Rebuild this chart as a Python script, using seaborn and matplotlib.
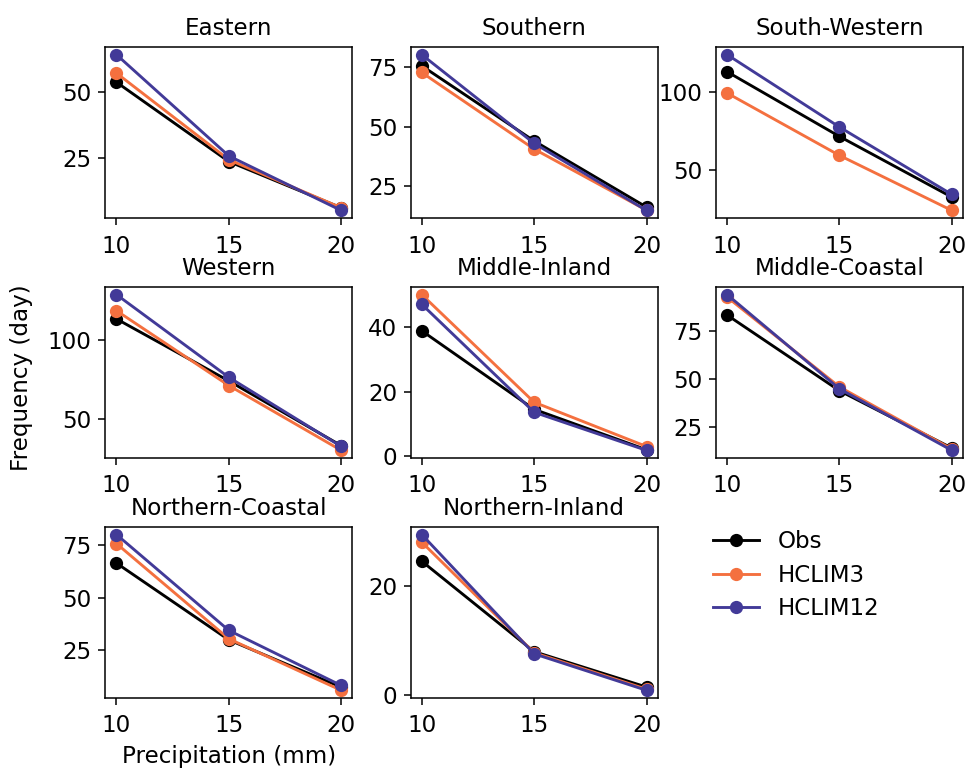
import numpy as np
import pandas as pd
import matplotlib
matplotlib.use("Agg")
import matplotlib.pyplot as plt
import seaborn as sns
from matplotlib.lines import Line2D

regions = ["Eastern", "Southern", "South-Western", "Western",
           "Middle-Inland", "Middle-Coastal", "Northern-Coastal", "Northern-Inland"]
precip = [10, 15, 20]
sources = ["Obs", "HCLIM3", "HCLIM12"]

obs = [
    [53.5, 23.8, 6.5],
    [75.7, 44.1, 16.3],
    [113.0, 71.7, 33.0],
    [113.3, 74.0, 33.0],
    [38.8, 14.5, 2.0],
    [83.6, 44.0, 14.0],
    [66.5, 30.0, 7.5],
    [24.6, 8.0, 1.5],
]
hclim3 = [
    [56.9, 24.5, 6.5],
    [72.9, 40.7, 15.0],
    [99.4, 59.6, 24.5],
    [118.5, 71.1, 30.0],
    [50.0, 16.7, 3.0],
    [93.0, 46.0, 13.5],
    [75.8, 30.5, 6.0],
    [28.1, 7.8, 1.1],
]
hclim12 = [
    [63.8, 25.9, 5.5],
    [80.4, 43.1, 14.9],
    [123.9, 77.7, 34.7],
    [128.7, 76.3, 32.5],
    [47.0, 13.6, 1.8],
    [94.3, 45.0, 12.8],
    [80.1, 34.5, 8.3],
    [29.5, 7.6, 0.9],
]
yticks = [
    [25, 50],
    [25, 50, 75],
    [50, 100],
    [50, 100],
    [0, 20, 40],
    [25, 50, 75],
    [25, 50, 75],
    [0, 20],
]
xticks = [10, 15, 20]

colors = {"Obs": "#000000", "HCLIM3": "#f4703f", "HCLIM12": "#423a98"}

rows = []
for i, reg in enumerate(regions):
    for src, arr in zip(sources, [obs, hclim3, hclim12]):
        for p, v in zip(precip, arr[i]):
            rows.append({"region": reg, "source": src, "precip": p, "freq": v})
df = pd.DataFrame(rows)

plt.rcParams["font.family"] = ["DejaVu Sans"]
plt.rcParams["font.size"] = 12

LABEL_FS = 12
TICK_FS = 12
DPI = 138

fig, axes = plt.subplots(3, 3, figsize=(965 / DPI, 768 / DPI), dpi=DPI)
fig.subplots_adjust(left=0.109, right=0.998, top=0.939, bottom=0.091,
                    wspace=0.235, hspace=0.40)

for i, reg in enumerate(regions):
    ax = axes.flat[i]
    sub = df[df["region"] == reg]
    sns.lineplot(data=sub, x="precip", y="freq", hue="source", hue_order=sources,
                 palette=colors, marker="o", markersize=6.9, markeredgewidth=0,
                 linewidth=1.5, ax=ax, legend=False)
    ax.set_title(reg, fontsize=LABEL_FS)
    ax.set_xticks(xticks)
    ax.set_yticks(yticks[i])
    ax.set_xlabel("")
    ax.set_ylabel("")
    ax.tick_params(labelsize=TICK_FS)
    ax.tick_params(axis="x", pad=5)

axes.flat[6].set_xlabel("Precipitation (mm)", fontsize=LABEL_FS)

lax = axes.flat[8]
lax.axis("off")
handles = [Line2D([0], [0], color=colors[s], marker="o", markersize=6.9,
                  markeredgewidth=0, linewidth=1.5) for s in sources]
lax.legend(handles, sources, loc="upper left", bbox_to_anchor=(-0.094, 1.10),
           frameon=False, fontsize=LABEL_FS, labelspacing=0.45)

fig.text(0.022, 0.508, "Frequency (day)", rotation=90, va="center", ha="center",
         fontsize=LABEL_FS)

fig.savefig("out.png", dpi=DPI)
